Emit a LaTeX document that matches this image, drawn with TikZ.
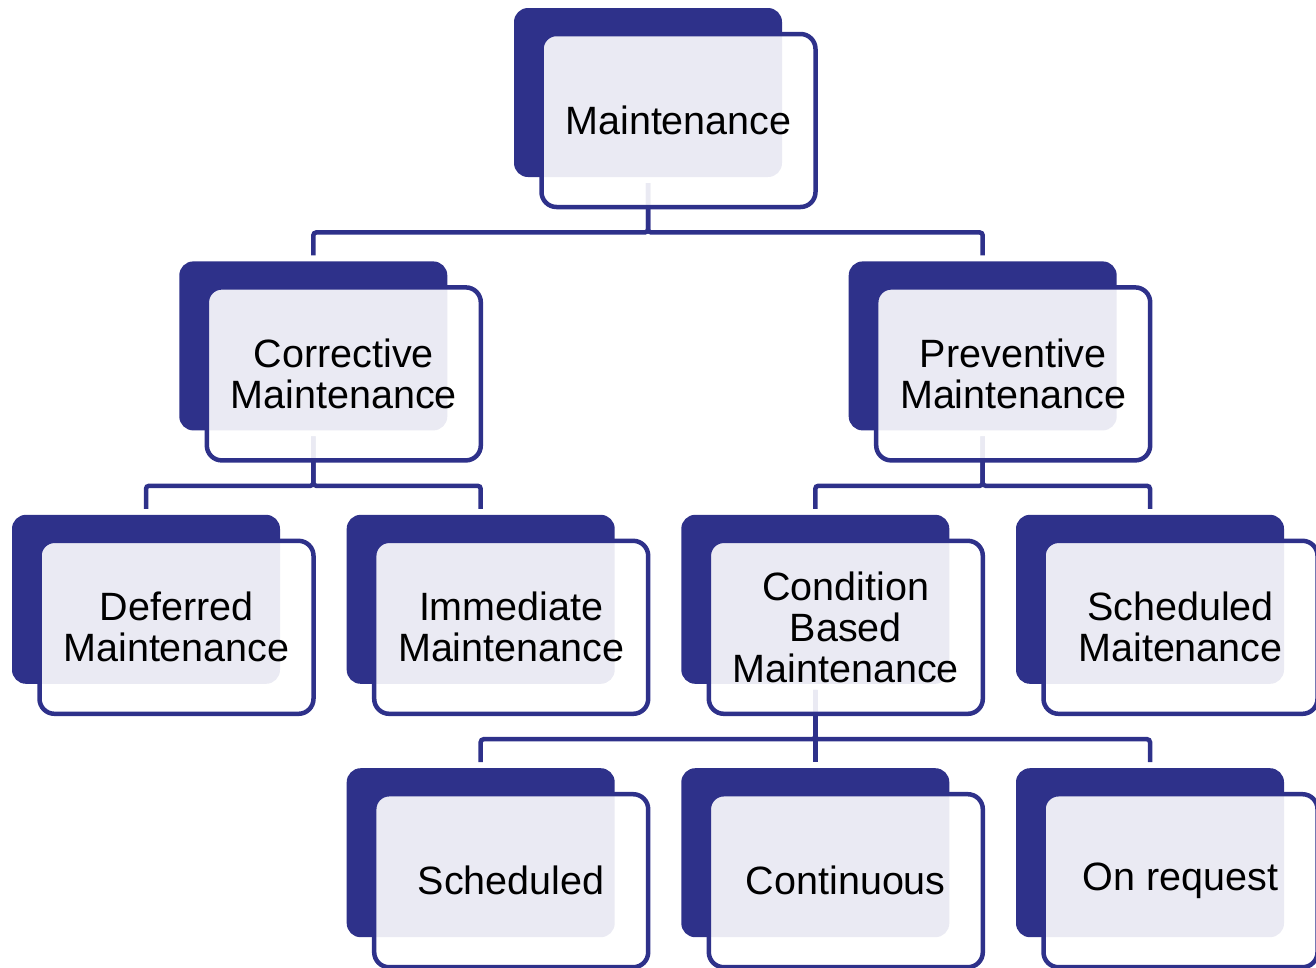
\documentclass[tikz,border=0pt]{standalone}
\usepackage{fontspec}
\setmainfont{Liberation Sans}
\begin{document}
\definecolor{navy}{RGB}{46,49,138}
\begin{tikzpicture}[x=1pt,y=-1pt,
  back/.style={rectangle,rounded corners=14pt,fill=navy,draw=none,
    minimum width=268pt,minimum height=169pt,inner sep=0pt,outer sep=0pt},
  front/.style={rectangle,rounded corners=15pt,draw=navy,line width=4.5pt,
    fill=white,fill opacity=0.9,text opacity=1,text=black,
    minimum width=274pt,minimum height=173pt,inner sep=0pt,
    align=center,font=\fontsize{39.5}{41}\selectfont},
  conn/.style={draw=navy,line width=4.5pt,rounded corners=3pt,
    shorten <=6pt,shorten >=6pt},
]
\useasboundingbox (0,0) rectangle (1316,967);
\clip (0,0) rectangle (1316,967);

% back tiles: centre x = 146 + 334.67 c, centre y = 92.5 + 253.4 r
\node[back] (mb)  at (648.0, 92.5) {};
\node[back] (cb)  at (313.3,345.9) {};
\node[back] (pb)  at (982.7,345.9) {};
\node[back] (db)  at (146.0,599.3) {};
\node[back] (ib)  at (480.7,599.3) {};
\node[back] (cbb) at (815.3,599.3) {};
\node[back] (smb) at (1150.0,599.3) {};
\node[back] (sb)  at (480.7,852.7) {};
\node[back] (cob) at (815.3,852.7) {};
\node[back] (ob)  at (1150.0,852.7) {};

% tree connectors between back tiles
\draw[conn] (mb.south) -- ++(0,55.4) -| (cb.north);
\draw[conn] (mb.south) -- ++(0,55.4) -| (pb.north);
\draw[conn] (cb.south) -- ++(0,55.4) -| (db.north);
\draw[conn] (cb.south) -- ++(0,55.4) -| (ib.north);
\draw[conn] (pb.south) -- ++(0,55.4) -| (cbb.north);
\draw[conn] (pb.south) -- ++(0,55.4) -| (smb.north);
\draw[conn] (cbb.south) -- ++(0,55.4) -| (sb.north);
\draw[conn] (cbb.south) -- ++(0,55.4) -| (cob.north);
\draw[conn] (cbb.south) -- ++(0,55.4) -| (ob.north);

% front cards, shifted right and down from their back tiles
\node[front] (m)  at ([xshift=30.5pt,yshift=-28pt]mb.center)  {Maintenance};
\node[front] (c)  at ([xshift=30.5pt,yshift=-28pt]cb.center)  {Corrective\\Maintenance};
\node[front] (p)  at ([xshift=30.5pt,yshift=-28pt]pb.center)  {Preventive\\Maintenance};
\node[front] (d)  at ([xshift=30.5pt,yshift=-28pt]db.center)  {Deferred\\Maintenance};
\node[front] (i)  at ([xshift=30.5pt,yshift=-28pt]ib.center)  {Immediate\\Maintenance};
\node[front] (cbm) at ([xshift=30.5pt,yshift=-28pt]cbb.center) {Condition\\Based\\Maintenance};
\node[front] (sm) at ([xshift=30.5pt,yshift=-28pt]smb.center) {Scheduled\\Maitenance};
\node[front] (s)  at ([xshift=30.5pt,yshift=-28pt]sb.center)  {Scheduled};
\node[front] (co) at ([xshift=30.5pt,yshift=-28pt]cob.center) {Continuous};
\node[front] (o)  at ([xshift=30.5pt,yshift=-28pt]ob.center)  {On request};
\end{tikzpicture}
\end{document}
